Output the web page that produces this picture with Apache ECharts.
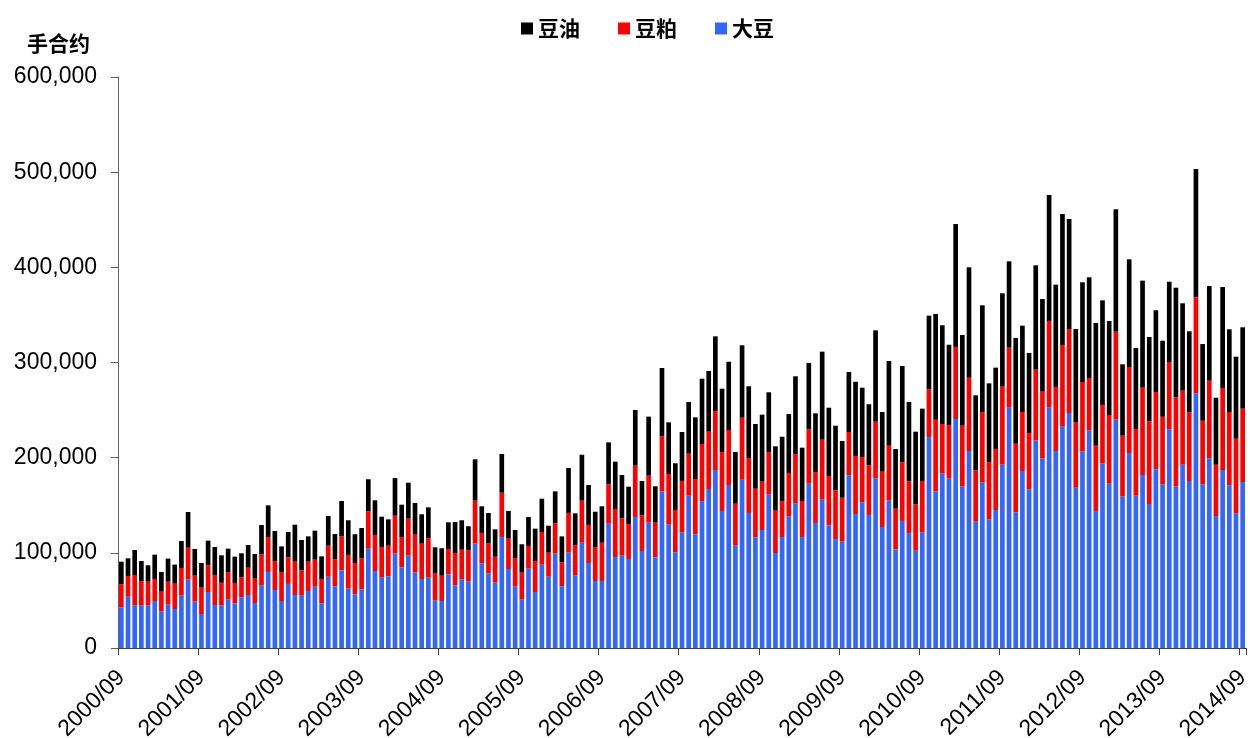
<!DOCTYPE html>
<html>
<head>
<meta charset="utf-8">
<script src="https://cdn.jsdelivr.net/npm/echarts@6/dist/echarts.min.js"></script>
<style>
html,body{margin:0;padding:0;background:#fff;}
#chart{width:1250px;height:738px;}
</style>
</head>
<body>
<div id="chart"></div>
<script>
// Monthly categories 2000/09 .. 2014/09
const startYear = 2000, startMonth = 9, monthCount = 169;
const categories = [];
for (let i = 0; i < monthCount; i++) {
  const m = startMonth - 1 + i;
  const y = startYear + Math.floor(m / 12);
  const mm = (m % 12) + 1;
  categories.push(y + '/' + (mm < 10 ? '0' + mm : mm));
}

const seriesNames = ['大豆', '豆粕', '豆油'];
const legendOrder = ['豆油', '豆粕', '大豆'];
const yAxisName = '手合约';

const soybean = [
42700,53900,44500,44500,44500,49400,38200,45500,41000,55000,
71800,48700,35700,58800,45200,44500,50800,47000,53300,55700,
47300,65500,79900,60900,49400,67300,55700,55000,59900,64400,
47000,74900,64800,81600,62300,56400,61700,104300,80900,73900,
75300,99100,84800,97000,79200,72500,73900,49700,49400,77400,
65900,72200,69700,109600,89000,78500,68600,116600,83000,64400,
50800,83400,58800,87500,74900,99100,64800,100200,76000,110600,
89300,70400,70400,130600,95600,97000,93500,137700,101900,131700,
95300,164300,129600,100600,121200,160000,119500,154100,167100,187000,
144000,171300,107500,176800,141900,116300,124000,161100,99800,116600,
138400,152000,116600,172600,131400,155800,128900,114500,111700,181500,
140800,153100,139800,178300,127100,154800,103700,133500,120800,102200,
121200,221700,164300,183200,177900,240600,169500,207000,132700,173700,
135200,145000,192600,252500,142600,186000,166700,217900,198900,252900,
207000,232500,246900,168400,206300,228700,144000,193700,172600,239900,
159000,204900,160000,181800,151300,187800,171600,229800,169500,192600,
175500,267600,171600,199300,138700,187000,171000,141100,174400];

const soymeal = [
24200,21800,32200,25500,25200,23100,21000,24200,26600,29100,
33600,27300,27700,28100,31500,24100,29100,21300,21000,28700,
25500,32900,36700,30500,29800,28000,35000,26600,30800,28400,
25500,32600,28400,35700,35400,32900,32500,39300,37800,32200,
32200,39900,31800,38900,39900,37100,41400,29100,26600,26600,
33900,31100,33000,45200,31800,31500,27300,46600,31900,30200,
28400,23800,32600,34400,25300,31900,25200,41700,32200,44200,
39900,35700,40200,41400,50500,39300,36800,53900,37500,49400,
36400,58100,53200,44400,54300,44200,58100,60300,60200,62000,
62000,57800,44100,65200,57800,51100,50800,44500,44500,37500,
45500,51900,37900,57200,53500,63100,51800,51200,46200,45500,
61000,47600,52200,59500,58200,57800,42700,61600,54400,48800,
54300,50100,75600,52200,56400,75700,64100,77000,54000,74000,
60200,64100,82000,63100,72100,62000,59200,74600,70500,90700,
67300,85900,88300,69100,73200,55000,68600,61600,72200,92500,
64100,90400,70100,91700,86900,81200,71400,70700,93900,77800,
72200,100900,67200,81600,53900,86200,77000,78800,77100];

const soyoil = [
23800,18500,26300,21400,17200,25600,20700,24200,20000,28300,
37500,28000,25900,25900,29400,28800,24500,27700,25200,23800,
26000,30800,33300,31500,27600,26600,38900,31900,26600,30500,
23800,31200,26600,37200,36500,30200,31900,33700,36500,31900,
27700,39600,34000,37800,33300,30900,32500,27000,28800,28100,
32600,30900,25200,43500,28100,31900,28800,40700,29100,29400,
29800,30500,34000,35000,28300,33600,27300,47200,33300,48300,
42100,37100,38300,44100,49700,45500,39200,58500,36100,62000,
38200,71800,54300,49100,51500,54300,64800,68600,63800,78500,
66500,71700,54400,76100,75300,68000,70400,63100,67600,67900,
62000,81600,56000,69700,61700,92500,71800,67900,59600,63000,
78000,72800,64100,96000,62700,89000,62700,101200,83300,76300,
76000,77400,111100,103700,84400,129200,95300,116000,78800,112400,
82700,85500,98100,90700,111000,90700,84100,109600,97300,132400,
107500,137600,115600,97700,104800,105800,128900,110000,98800,128600,
75000,113100,85100,112500,88600,85900,79900,84400,115200,91800,
85100,134800,80600,99500,70400,106100,86900,86200,85500];

const colors = {'大豆': '#3366ff', '豆粕': '#ff0000', '豆油': '#000000'};
const dataByName = {'大豆': soybean, '豆粕': soymeal, '豆油': soyoil};

const numFont = '"Liberation Sans", Arial, sans-serif';
const cjkFont = '"Noto Sans CJK SC", "Noto Sans", sans-serif';

const chart = echarts.init(document.getElementById('chart'), null, {renderer: 'canvas'});
chart.setOption({
  animation: false,
  backgroundColor: '#ffffff',
  legend: {
    data: legendOrder,
    left: 516,
    top: 13,
    itemWidth: 12,
    itemHeight: 12,
    itemGap: 38,
    icon: 'rect',
    textStyle: {fontFamily: cjkFont, fontSize: 21, fontWeight: 'bold', color: '#000'}
  },
  graphic: [{
    type: 'text',
    left: 27,
    top: 33,
    style: {text: yAxisName, font: 'bold 21px "Noto Sans CJK SC", sans-serif', fill: '#000'}
  }],
  grid: {left: 118, right: 4, top: 77, bottom: 90, containLabel: false, outerBoundsMode: 'none'},
  xAxis: {
    type: 'category',
    data: categories,
    boundaryGap: true,
    axisLine: {show: true, lineStyle: {color: '#404040', width: 1}},
    axisTick: {show: true, interval: 11, length: 7, lineStyle: {color: '#404040'}},
    axisLabel: {
      interval: 11,
      rotate: 45,
      margin: 26,
      fontFamily: numFont,
      fontSize: 23,
      color: '#000'
    }
  },
  yAxis: {
    type: 'value',
    min: 0,
    max: 600000,
    interval: 100000,
    splitLine: {show: false},
    axisLine: {show: true, lineStyle: {color: '#606060', width: 1}},
    axisTick: {show: true, length: 7, lineStyle: {color: '#606060'}},
    axisLabel: {
      margin: 21,
      fontFamily: numFont,
      fontSize: 23,
      color: '#000',
      formatter: v => v.toLocaleString('en-US')
    }
  },
  series: seriesNames.map(name => ({
    name: name,
    type: 'bar',
    stack: 'total',
    barCategoryGap: '30%',
    itemStyle: {color: colors[name]},
    data: dataByName[name]
  }))
});
</script>
</body>
</html>
